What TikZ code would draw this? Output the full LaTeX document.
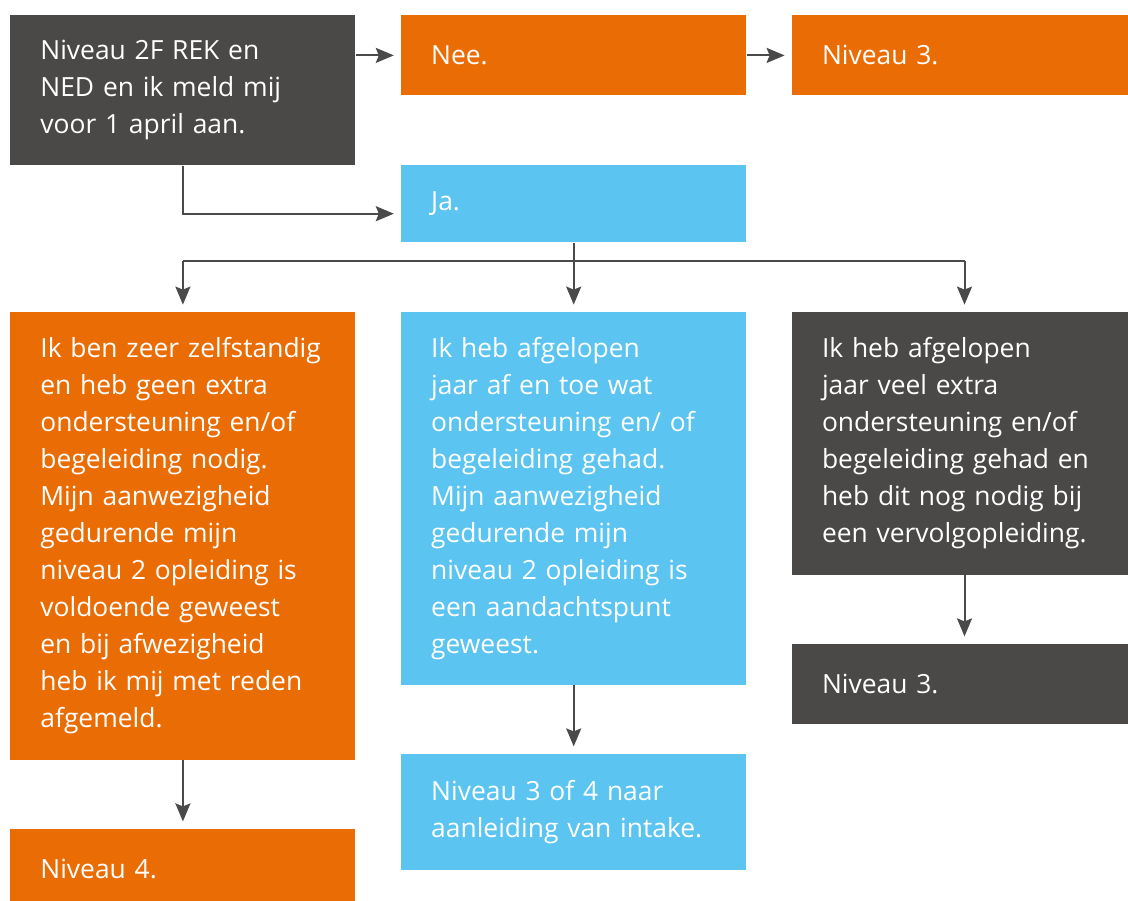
\documentclass[tikz,border=0pt]{standalone}
\usepackage{fontspec}
\setmainfont{Open Sans}
\usetikzlibrary{arrows.meta,positioning}
\definecolor{donkergrijs}{HTML}{4A4948}
\definecolor{oranje}{HTML}{EA6C05}
\definecolor{blauw}{HTML}{5BC4F1}
\definecolor{lijn}{HTML}{4A4A4A}
\tikzset{node distance=34pt, % vertical gap between the boxes
        vak/.style={ % common look of every box
            rectangle,
            text width=142.5pt,
            inner xsep=15pt,
            inner ysep=0pt,
            align=left,
            anchor=north west,
            text=white,
            font=\fontsize{13.2}{18.5}\selectfont},
        donker/.style={vak, fill=donkergrijs},
        oranjevak/.style={vak, fill=oranje},
        blauwvak/.style={vak, fill=blauw},
        pijl/.style={ % connectors with a filled head
            draw=lijn,
            line width=1pt,
            -{Stealth[length=9pt,width=7.5pt,inset=1.5pt]},
            shorten >=3.5pt}
        }
\begin{document}
\begin{tikzpicture}
    \useasboundingbox (0,0) rectangle (564pt,-450pt);

    \node[donker, minimum height=75pt] (start) at (5pt,-7.5pt)
        {Niveau 2F REK en\\NED en ik meld mij\\voor 1 april aan.};
    \node[oranjevak, minimum height=40pt] (nee)
        [right=22.5pt of start.north east, anchor=north west] {Nee.};
    \node[oranjevak, minimum height=40pt] (niv3a)
        [right=22.5pt of nee.north east, anchor=north west] {Niveau 3.};
    \node[blauwvak, minimum height=38.5pt] (ja)
        [below=34.5pt of nee.south west, anchor=north west] {Ja.};

    \node[blauwvak, minimum height=186.5pt] (soms)
        [below=34.5pt of ja.south west, anchor=north west]
        {Ik heb afgelopen\\jaar af en toe wat\\ondersteuning en/ of\\begeleiding gehad.\\Mijn aanwezigheid\\gedurende mijn\\niveau 2 opleiding is\\een aandachtspunt\\geweest.};
    \node[oranjevak, minimum height=224pt] (zelf)
        [left=22.5pt of soms.north west, anchor=north east]
        {Ik ben zeer zelfstandig\\en heb geen extra\\ondersteuning en/of\\begeleiding nodig.\\Mijn aanwezigheid\\gedurende mijn\\niveau 2 opleiding is\\voldoende geweest\\en bij afwezigheid\\heb ik mij met reden\\afgemeld.};
    \node[donker, minimum height=131.5pt] (veel)
        [right=22.5pt of soms.north east, anchor=north west]
        {Ik heb afgelopen\\jaar veel extra\\ondersteuning en/of\\begeleiding gehad en\\heb dit nog nodig bij\\een vervolgopleiding.};

    \node[oranjevak, minimum height=40pt] (niv4) [below=of zelf, anchor=north] {Niveau 4.};
    \node[blauwvak, minimum height=58pt] (niv34) [below=of soms, anchor=north]
        {Niveau 3 of 4 naar\\aanleiding van intake.};
    \node[donker, minimum height=40pt] (niv3b) [below=of veel, anchor=north] {Niveau 3.};

    \coordinate[below=9pt of ja.south] (splits);

    \draw[pijl] (start.east |- nee.west) -- (nee.west);
    \draw[pijl] (nee.east) -- (niv3a.west);
    \draw[pijl] (start.south) |- ([yshift=-5pt]ja.west);
    \draw[draw=lijn, line width=1pt] (splits -| zelf.north) -- (splits -| veel.north);
    \draw[pijl] (ja.south) -- (soms.north);
    \draw[pijl] (splits -| zelf.north) -- (zelf.north);
    \draw[pijl] (splits -| veel.north) -- (veel.north);
    \draw[pijl] (zelf.south) -- (niv4.north);
    \draw[pijl] (soms.south) -- (niv34.north);
    \draw[pijl] (veel.south) -- (niv3b.north);
\end{tikzpicture}
\end{document}
